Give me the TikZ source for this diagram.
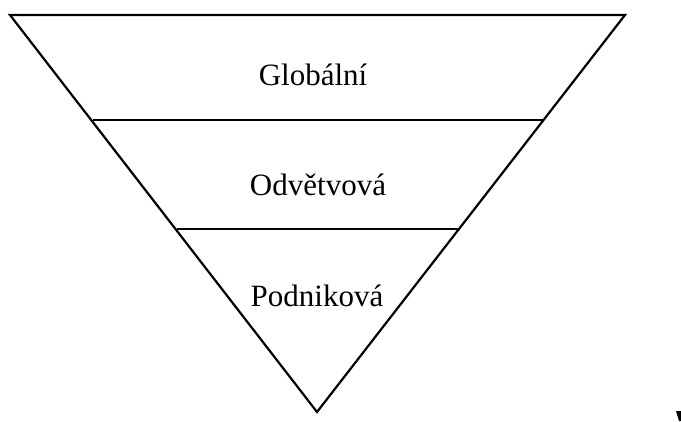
\documentclass[tikz,border=0pt]{standalone}
\usepackage{fontspec}
\setmainfont{Liberation Serif}
\begin{document}
\begin{tikzpicture}[x=1pt,y=-1pt,
  outline/.style={draw=black,line width=2.2pt,line join=miter},
  divider/.style={draw=black,line width=1.4pt},
  label/.style={font=\fontsize{31}{37}\selectfont,inner sep=0pt,anchor=base}]
\useasboundingbox (0,0) rectangle (681,421);
\coordinate (tl) at (10,15);
\coordinate (tr) at (625,15);
\coordinate (bt) at (317,412);
\draw[outline] (tl) -- (tr) -- (bt) -- cycle;
\coordinate (a1) at (93,120);
\coordinate (a2) at (543,120);
\coordinate (b1) at (177,229);
\coordinate (b2) at (460,229);
\draw[divider] (a1) -- (a2);
\draw[divider] (b1) -- (b2);
\node[label] (g) at (313,85) {Globální};
\node[label] (o) at (318,195) {Odvětvová};
\node[label] (p) at (317,306) {Podniková};
\fill[black] (676,411) -- (681,411) -- (681,421) -- (679,421) -- cycle;
\end{tikzpicture}
\end{document}
